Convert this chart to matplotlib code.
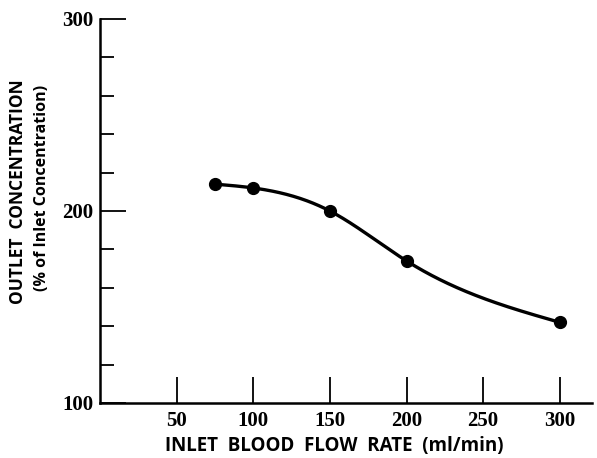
import numpy as np
import matplotlib
matplotlib.use("Agg")
import matplotlib.pyplot as plt
from matplotlib.ticker import MultipleLocator

# values
flow_rate = [75, 100, 150, 200, 300]          # ml/min
outlet_conc = [214, 212, 200, 174, 142]       # % of inlet concentration
x_ticks = [50, 100, 150, 200, 250, 300]
y_ticks = [100, 200, 300]


def natural_spline(x, y, n=300):
    # natural cubic spline through the points, for drawing the smooth curve
    x = np.asarray(x, float)
    y = np.asarray(y, float)
    k = len(x)
    h = np.diff(x)
    A = np.zeros((k, k))
    b = np.zeros(k)
    A[0, 0] = A[-1, -1] = 1.0
    for i in range(1, k - 1):
        A[i, i - 1] = h[i - 1]
        A[i, i] = 2 * (h[i - 1] + h[i])
        A[i, i + 1] = h[i]
        b[i] = 6 * ((y[i + 1] - y[i]) / h[i] - (y[i] - y[i - 1]) / h[i - 1])
    m = np.linalg.solve(A, b)
    xs = np.linspace(x[0], x[-1], n)
    idx = np.clip(np.searchsorted(x, xs) - 1, 0, k - 2)
    t0 = x[idx + 1] - xs
    t1 = xs - x[idx]
    hi = h[idx]
    ys = (m[idx] * t0 ** 3 + m[idx + 1] * t1 ** 3) / (6 * hi) \
        + (y[idx] / hi - m[idx] * hi / 6) * t0 \
        + (y[idx + 1] / hi - m[idx + 1] * hi / 6) * t1
    return xs, ys


W, H = 597, 458
fig = plt.figure(figsize=(W / 100, H / 100), dpi=100)
ax = fig.add_axes([100 / W, (H - 403) / H, (592 - 100) / W, (403 - 19) / H])

xs, ys = natural_spline(flow_rate, outlet_conc)
ax.plot(xs, ys, color="black", lw=2.4, solid_capstyle="round")
ax.plot(flow_rate, outlet_conc, "o", color="black", ms=8.5)

ax.set_xlim(0, 321)
ax.set_ylim(100, 300)

for side in ("top", "right"):
    ax.spines[side].set_visible(False)
for side in ("left", "bottom"):
    ax.spines[side].set_linewidth(1.8)

ax.set_xticks(x_ticks)
ax.set_yticks(y_ticks)
ax.yaxis.set_minor_locator(MultipleLocator(20))
ax.tick_params(axis="both", which="major", direction="in", length=19, width=1.3, pad=5)
ax.tick_params(axis="y", which="minor", direction="in", length=10, width=1.3)
ax.tick_params(axis="x", which="major", pad=6)

for lab in ax.get_xticklabels() + ax.get_yticklabels():
    lab.set_fontfamily("Liberation Serif")
    lab.set_fontweight("bold")
    lab.set_fontsize(15)

label_font = dict(family="Open Sans", weight="bold", color="black")
fig.text(334 / W, 1 - 446 / H, "INLET  BLOOD  FLOW  RATE  (ml/min)",
         ha="center", va="center", fontsize=13.5, **label_font)
fig.text(18 / W, 1 - 192 / H, "OUTLET  CONCENTRATION",
         ha="center", va="center", rotation=90, fontsize=12.5, **label_font)
fig.text(42 / W, 1 - 188 / H, "(% of Inlet Concentration)",
         ha="center", va="center", rotation=90, fontsize=11.5, **label_font)

fig.savefig("out.png", dpi=100)
